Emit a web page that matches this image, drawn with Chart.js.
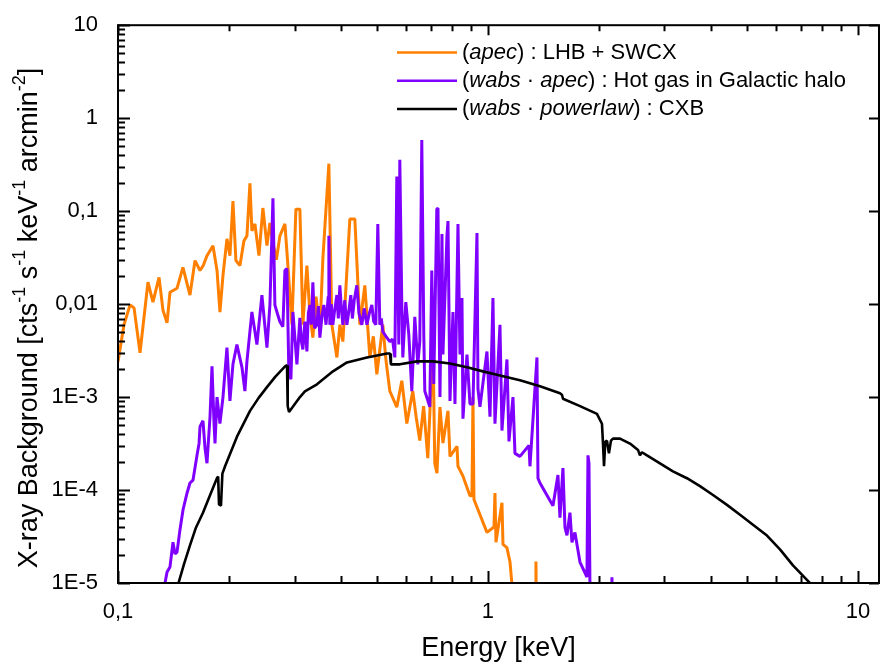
<!DOCTYPE html>
<html lang="en">
<head>
<meta charset="UTF-8">
<title>X-ray Background components</title>
<script src="https://cdn.jsdelivr.net/npm/chart.js"></script>
<style>
  body { margin: 0; background: #fff; }
  canvas { display: block; }
</style>
</head>
<body>
<canvas id="bgChart" width="883" height="669"></canvas>
<script>
// (apec) : LHB + SWCX  -- energy [keV] / value
const lhbE = [0.100, 0.1038, 0.1078, 0.1105, 0.1147, 0.1205, 0.1243, 0.1291, 0.1323, 0.1357,
  0.1382, 0.1444, 0.1498, 0.1565, 0.1615, 0.1666, 0.1700, 0.1740, 0.1806, 0.1852, 0.1886,
  0.1922, 0.1970, 0.2007, 0.2045, 0.2083, 0.2136, 0.2190, 0.2231, 0.2273, 0.2301,
  0.2345, 0.2404, 0.2464, 0.2527, 0.2574, 0.2623, 0.2680, 0.2739, 0.2826, 0.2879, 0.2952,
  0.3026, 0.3102, 0.3160, 0.3240, 0.3300, 0.3363, 0.3430, 0.3513, 0.3579, 0.3715, 0.3785, 0.3905,
  0.3980, 0.4053, 0.4233, 0.4367, 0.4505, 0.4647, 0.4794, 0.4900, 0.5007, 0.5197, 0.5300, 0.5429,
  0.5670, 0.5850, 0.6034, 0.6263, 0.6400, 0.6542, 0.6700, 0.6876, 0.7101, 0.7182, 0.7280,
  0.7417, 0.7557, 0.7796, 0.7894, 0.8246, 0.8297, 0.8559, 0.8940, 0.9052, 0.9108, 0.9165,
  0.9937, 1.038, 1.0445, 1.051, 1.091, 1.098, 1.125, 1.147, 1.161, 1.25, 1.345, 1.348, 1.352, 1.5];
const lhbV = [2.4e-3, 6.0e-3, 9.8e-3, 9.1e-3, 3.0e-3, 1.72e-2, 1.05e-2, 1.94e-2, 8.6e-3, 6.3e-3,
  1.34e-2, 1.48e-2, 2.48e-2, 1.25e-2, 2.94e-2, 2.30e-2, 2.6e-2, 3.32e-2, 4.25e-2, 2.30e-2, 8.2e-3,
  2.04e-2, 5.04e-2, 3.32e-2, 0.128, 2.94e-2, 2.60e-2, 4.80e-2, 5.42e-2, 0.199, 6.13e-2,
  7.28e-2, 3.32e-2, 0.108, 4.25e-2, 7.46e-2, 4.57e-2, 3.0e-2, 5.42e-2, 7.28e-2, 2.60e-2, 6.0e-3,
  0.105, 0.105, 6.0e-3, 2.60e-2, 8.0e-3, 4.36e-3, 1.2e-2, 5.05e-3, 3.09e-2, 0.324, 6.0e-3, 2.67e-3,
  6.0e-3, 3.95e-3, 8.22e-2, 8.22e-2, 6.0e-3, 1.59e-2, 2.67e-3, 4.5e-3, 1.76e-3, 6.0e-3, 2.5e-3, 1.16e-3,
  7.8e-4, 1.5e-3, 5.2e-4, 1.16e-3, 6.0e-4, 3.4e-4, 8.0e-4, 2.2e-4, 3.67e-3, 1.94e-4, 1.52e-4,
  7.8e-4, 3.2e-4, 7.1e-4, 2.3e-4, 2.95e-4, 1.8e-4, 1.41e-4, 8.7e-5, 8.7e-5, 1.0e-3, 7.9e-5,
  3.5e-5, 4.0e-5, 9.3e-5, 2.74e-5, 7.3e-5, 2.6e-5, 2.4e-5, 1.68e-5, 9.6e-6, 4e-6, 4e-6, 1.7e-5, 4e-6, 3e-6];

// (wabs * apec) : hot gas in Galactic halo
const haloE = [0.1323, 0.1340, 0.1357, 0.1382, 0.1408, 0.1426, 0.1444, 0.1471, 0.1499, 0.1537,
  0.1565, 0.1595, 0.1635, 0.1656, 0.1666, 0.1697, 0.1719, 0.1740, 0.1773, 0.1795,
  0.1818, 0.1829, 0.1852, 0.1886, 0.1922, 0.1970, 0.2007, 0.2045, 0.2096, 0.2163,
  0.2203, 0.2231, 0.2301, 0.2374, 0.2449, 0.2527, 0.2574, 0.2623, 0.2655, 0.2689,
  0.2739, 0.2790, 0.2826, 0.2861, 0.2897, 0.2933, 0.2970, 0.3045,
  0.3102, 0.3130, 0.3160, 0.3200, 0.3240, 0.3270, 0.3301, 0.3330, 0.3363, 0.3400,
  0.3448, 0.3480, 0.3513, 0.3560, 0.3601, 0.3650, 0.3700, 0.3715, 0.3738, 0.3770,
  0.3808, 0.3850, 0.3905, 0.3940, 0.3978, 0.4015, 0.4053, 0.4100, 0.4155, 0.4200,
  0.4259, 0.4300, 0.4350, 0.4421, 0.4480, 0.4561, 0.4630, 0.4706, 0.4780, 0.4854,
  0.4910, 0.4976, 0.5038, 0.5101, 0.5150, 0.5197, 0.5300, 0.5429, 0.5520,
  0.5601, 0.5670, 0.5741, 0.5777, 0.5849, 0.5886, 0.5997,
  0.6110, 0.6225, 0.6342, 0.6461, 0.6542, 0.6624, 0.6707, 0.6749, 0.6962, 0.7049,
  0.7137, 0.7272, 0.7326, 0.7417, 0.7510, 0.7557, 0.7747, 0.7797, 0.7894, 0.8042,
  0.8143, 0.8297, 0.8401, 0.8506, 0.8559, 0.8775, 0.8940, 0.9108, 0.9339, 0.9397,
  0.9514, 0.9937, 1.0125, 1.0315, 1.0445, 1.0775, 1.091, 1.1254, 1.1396, 1.1683,
  1.1829, 1.2203, 1.2907, 1.2987, 1.3565, 1.3650, 1.3821, 1.4984, 1.5459, 1.5652,
  1.5946, 1.6147, 1.6349, 1.6657, 1.6865, 1.7183, 1.7726, 1.8515, 1.8632, 1.8749,
  1.8865, 2.0, 2.155, 2.163, 2.171, 2.4];
const haloV = [8e-6, 1.0e-5, 1.31e-5, 1.49e-5, 2.74e-5, 2.05e-5, 2.15e-5, 3.77e-5, 6.14e-5, 9.3e-5,
  1.19e-4, 1.28e-4, 2.36e-4, 3.17e-4, 4.8e-4, 5.56e-4, 2.8e-4, 1.94e-4, 6.14e-4, 2.14e-3,
  5.17e-4, 3.17e-4, 1.0e-3, 5.17e-4, 1.0e-3, 3.41e-3, 9.1e-4, 2.25e-3, 3.67e-3, 2.09e-3,
  1.16e-3, 2.42e-3, 8.23e-3, 3.67e-3, 1.25e-2, 3.41e-3, 9.77e-3, 0.1375, 9.77e-3, 8.23e-3,
  6.45e-3, 5.70e-3, 2.30e-2, 2.42e-2, 1.76e-3, 1.56e-3, 8.23e-3, 2.25e-3,
  7.1e-3, 4.0e-3, 3.25e-3, 6.5e-3, 3.09e-3, 8.0e-3, 9.77e-3, 6.0e-3, 1.715e-2, 5.5e-3,
  5.99e-3, 9.5e-3, 4.36e-3, 7.5e-3, 9.77e-3, 6.0e-3, 1.2e-2, 5.42e-2, 5.99e-3, 1.0e-2,
  5.99e-3, 8.5e-3, 1.25e-2, 7.0e-3, 1.59e-2, 9.0e-3, 5.99e-3, 1.1e-2, 5.99e-3, 8.0e-3,
  1.25e-2, 7.0e-3, 1.1e-2, 1.59e-2, 8.0e-3, 5.99e-3, 9.0e-3, 5.99e-3, 8.0e-3, 9.77e-3,
  6.5e-3, 5.99e-3, 7.28e-2, 5.99e-3, 7.0e-3, 5.05e-3, 4.5e-3, 3.95e-3, 4.2e-3,
  2.67e-3, 0.2357, 3.67e-3, 0.3574, 9.77e-3, 2.67e-3, 1.05e-2,
  4.69e-3, 1.16e-3, 7.28e-3, 2.25e-3, 3.95e-3, 0.5835, 4.69e-3, 1.16e-3, 7.84e-4, 2.30e-2,
  1.38e-3, 0.1051, 0.1077, 1.0e-3, 5.69e-2, 2.87e-3, 5.42e-2, 7.83e-2, 9.1e-4, 8.23e-3,
  8.44e-4, 7.28e-2, 2.87e-3, 1.16e-2, 5.85e-4, 2.87e-3, 8.44e-4, 8.44e-4, 5.83e-2, 1.22e-3,
  7.84e-4, 3.09e-3, 6.14e-4, 1.16e-2, 5.17e-4, 5.99e-3, 4.36e-4, 2.54e-3, 3.33e-4, 1.0e-3,
  2.48e-4, 2.30e-4, 3.02e-4, 1.80e-4, 2.67e-3, 1.34e-4, 1.19e-4, 6.78e-5, 1.45e-4, 5.05e-5,
  1.72e-4, 3.96e-5, 3.25e-5, 5.71e-5, 2.74e-5, 3.50e-5, 1.68e-5, 1.16e-5, 2.36e-4, 1.94e-4,
  9e-6, 4e-6, 4e-6, 1.15e-5, 4e-6, 3e-6];

// (wabs * powerlaw) : CXB
const cxbE = [0.1452, 0.1508, 0.1565, 0.1625, 0.1697, 0.1773, 0.1851, 0.1865, 0.1875, 0.1898, 0.1915,
  0.1947, 0.2097, 0.2274, 0.2400, 0.2527, 0.2660, 0.2828, 0.2863, 0.2875, 0.2899, 0.3103, 0.3200,
  0.345, 0.3811, 0.4158, 0.471, 0.5333, 0.5435, 0.5465, 0.5782, 0.6429, 0.7101, 0.7893,
  0.8774, 0.9694, 1.0775, 1.2204, 1.3822, 1.5654, 1.5849, 1.595, 1.7734, 1.9706, 2.0328,
  2.046, 2.059, 2.075, 2.097, 2.123, 2.15, 2.177, 2.274, 2.42, 2.544, 2.575,
  2.607, 2.69, 2.917, 3.162, 3.45, 3.741, 4.057, 4.425, 4.8, 5.202,
  5.677, 6.155, 6.674, 7.28, 7.51, 7.8];
const cxbV = [9.5e-6, 1.6e-5, 2.54e-5, 3.96e-5, 5.69e-5, 8.8e-5, 1.34e-4, 1.40e-4, 7.0e-5, 6.8e-5, 1.5e-4,
  1.8e-4, 3.75e-4, 7.1e-4, 9.8e-4, 1.28e-3, 1.65e-3, 2.14e-3, 2.20e-3, 8.0e-4, 6.92e-4, 1.0e-3, 1.15e-3,
  1.37e-3, 1.89e-3, 2.36e-3, 2.67e-3, 2.94e-3, 2.94e-3, 2.25e-3, 2.25e-3, 2.42e-3, 2.42e-3, 2.30e-3,
  2.09e-3, 1.89e-3, 1.71e-3, 1.52e-3, 1.31e-3, 1.10e-3, 1.06e-3, 9.6e-4, 8.0e-4, 6.6e-4, 5.16e-4,
  3.16e-4, 1.80e-4, 3.3e-4, 3.4e-4, 2.48e-4, 3.4e-4, 3.57e-4, 3.57e-4, 3.16e-4, 2.70e-4, 2.36e-4,
  2.55e-4, 2.36e-4, 1.94e-4, 1.59e-4, 1.34e-4, 1.10e-4, 8.85e-5, 6.92e-5, 5.42e-5, 4.24e-5,
  3.24e-5, 2.30e-5, 1.55e-5, 1.08e-5, 9.5e-6, 7e-6];

const xTickValues = [0.1, 1, 10];
const xTickLabels = ['0,1', '1', '10'];
const yTickValues = [1e-5, 1e-4, 1e-3, 0.01, 0.1, 1, 10];
const yTickLabels = ['1E-5', '1E-4', '1E-3', '0,01', '0,1', '1', '10'];

const FONT = '"Liberation Sans", Arial, sans-serif';

const legendRows = [
  { color: '#ff8000', parts: [['(', 0], ['apec', 1], [') : LHB + SWCX', 0]] },
  { color: '#8000ff', parts: [['(', 0], ['wabs', 1], [' \u00b7 ', 0], ['apec', 1], [') : Hot gas in Galactic halo', 0]] },
  { color: '#000000', parts: [['(', 0], ['wabs', 1], [' \u00b7 ', 0], ['powerlaw', 1], [') : CXB', 0]] }
];

function toPoints(es, vs) {
  return es.map((e, i) => ({ x: e, y: vs[i] }));
}

// box around the plot with inward ticks, like the original
const frame = {
  id: 'frame',
  afterDatasetsDraw(chart) {
    const { ctx, chartArea: a, scales: { x, y } } = chart;
    ctx.save();
    ctx.strokeStyle = '#000';
    ctx.lineWidth = 2;
    ctx.strokeRect(a.left, a.top, a.right - a.left, a.bottom - a.top);
    ctx.beginPath();
    for (let d = -1; d <= 1; d++) {
      for (let m = 1; m <= 9; m++) {
        const v = m * Math.pow(10, d);
        if (v < x.min || v > x.max) continue;
        const px = Math.round(x.getPixelForValue(v)) + 0.5;
        const major = m === 1;
        ctx.moveTo(px, a.bottom);
        ctx.lineTo(px, a.bottom - (major ? 12 : 7));
        ctx.moveTo(px, a.top);
        ctx.lineTo(px, a.top + (major ? 10 : 6));
      }
    }
    for (let d = -5; d <= 1; d++) {
      for (let m = 1; m <= 9; m++) {
        const v = m * Math.pow(10, d);
        if (v < y.min * 0.999 || v > y.max * 1.001) continue;
        const py = Math.round(y.getPixelForValue(v)) + 0.5;
        const major = m === 1;
        ctx.moveTo(a.left, py);
        ctx.lineTo(a.left + (major ? 12 : 7), py);
        if (major) {
          ctx.moveTo(a.right, py);
          ctx.lineTo(a.right - 10, py);
        }
      }
    }
    ctx.stroke();
    ctx.restore();
  }
};

const legendBox = {
  id: 'legendBox',
  afterDraw(chart) {
    const ctx = chart.ctx;
    ctx.save();
    ctx.textBaseline = 'middle';
    ctx.fillStyle = '#000';
    legendRows.forEach((row, r) => {
      const y = 52.5 + r * 28.3;
      ctx.strokeStyle = row.color;
      ctx.lineWidth = 2.5;
      ctx.beginPath();
      ctx.moveTo(397, y);
      ctx.lineTo(457, y);
      ctx.stroke();
      let x = 462;
      row.parts.forEach(([txt, it]) => {
        ctx.font = (it ? 'italic ' : '') + '22px ' + FONT;
        ctx.fillText(txt, x, y);
        x += ctx.measureText(txt).width;
      });
    });
    ctx.restore();
  }
};

const yTitle = {
  id: 'yTitle',
  afterDraw(chart) {
    const ctx = chart.ctx;
    const parts = [['X-ray Background [cts', 0], ['-1', 1], [' s', 0], ['-1', 1], [' keV', 0], ['-1', 1],
      [' arcmin', 0], ['-2', 1], [']', 0]];
    const big = '27px ' + FONT, small = '18px ' + FONT;
    ctx.save();
    let total = 0;
    parts.forEach(([t, s]) => { ctx.font = s ? small : big; total += ctx.measureText(t).width; });
    ctx.translate(30, 318);
    ctx.rotate(-Math.PI / 2);
    ctx.fillStyle = '#000';
    ctx.textBaseline = 'middle';
    let x = -total / 2;
    parts.forEach(([t, s]) => {
      ctx.font = s ? small : big;
      ctx.fillText(t, x, s ? -10 : 0);
      x += ctx.measureText(t).width;
    });
    ctx.restore();
  }
};

new Chart(document.getElementById('bgChart'), {
  type: 'line',
  data: {
    datasets: [
      { label: 'CXB', data: toPoints(cxbE, cxbV), borderColor: '#000000', borderWidth: 2.6, clip: 0 },
      { label: 'Galactic halo', data: toPoints(haloE, haloV), borderColor: '#8000ff', borderWidth: 3, clip: 0 },
      { label: 'LHB + SWCX', data: toPoints(lhbE, lhbV), borderColor: '#ff8000', borderWidth: 3, clip: 0 }
    ]
  },
  options: {
    responsive: false,
    animation: false,
    devicePixelRatio: 1,
    elements: {
      point: { radius: 0 },
      line: { tension: 0, borderJoinStyle: 'bevel', fill: false }
    },
    layout: { padding: { top: 17, right: 4, left: 0, bottom: 0 } },
    plugins: {
      legend: { display: false },
      tooltip: { enabled: false }
    },
    scales: {
      x: {
        type: 'logarithmic',
        min: 0.1,
        max: 11.4,
        grid: { display: false },
        border: { display: false },
        afterBuildTicks: s => { s.ticks = xTickValues.map(v => ({ value: v })); },
        afterFit: s => { s.height = 86; },
        ticks: {
          callback: (v, i) => xTickLabels[i],
          font: { family: FONT, size: 22 },
          color: '#000',
          padding: 8,
          maxRotation: 0,
          autoSkip: false
        },
        title: {
          display: true,
          text: 'Energy [keV]',
          font: { family: FONT, size: 27 },
          color: '#000',
          padding: { top: 0, bottom: 4 }
        }
      },
      y: {
        type: 'logarithmic',
        min: 1e-5,
        max: 10,
        grid: { display: false },
        border: { display: false },
        afterBuildTicks: s => { s.ticks = yTickValues.map(v => ({ value: v })); },
        afterFit: s => { s.width = 118; },
        ticks: {
          callback: (v, i) => yTickLabels[i],
          font: { family: FONT, size: 22 },
          color: '#000',
          padding: 12,
          autoSkip: false
        }
      }
    }
  },
  plugins: [frame, legendBox, yTitle]
});
</script>
</body>
</html>
